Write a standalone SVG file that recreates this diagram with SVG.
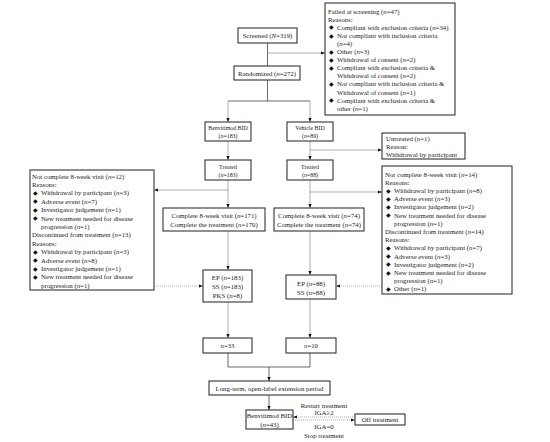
<svg xmlns="http://www.w3.org/2000/svg" width="550" height="442" viewBox="0 0 550 442">
<defs>
<marker id="ah" markerWidth="4" markerHeight="4" refX="4" refY="2" orient="auto" markerUnits="userSpaceOnUse"><path d="M0,0.4 L4,2 L0,3.6 z" fill="#111"/></marker>
</defs>
<style>
.box{fill:#fff;stroke:#333;stroke-width:1.1}
text{font-family:"Liberation Serif","Times New Roman",serif;font-size:6.8px;fill:#222}
.c{text-anchor:middle}
.s{font-size:5.9px}
.b{font-family:"DejaVu Sans",sans-serif;font-size:6px;fill:#111}
.ln{fill:none;stroke:#444;stroke-width:0.8}
.lg{fill:none;stroke:#999;stroke-width:0.8}
.dt{fill:none;stroke:#999;stroke-width:0.8;stroke-dasharray:1 1}
.i{font-style:italic}
</style>
<rect width="550" height="442" fill="#fff"/>
<g id="connectors">
<path class="ln" d="M267.5,43 V66"/>
<path class="lg" d="M267.5,53 H325" marker-end="url(#ah)"/>
<path class="ln" d="M267.5,80 V101 M228,101 H310"/>
<path class="lg" d="M228,101 V122" marker-end="url(#ah)"/>
<path class="lg" d="M310,101 V122" marker-end="url(#ah)"/>
<path class="lg" d="M228,141 V160" marker-end="url(#ah)"/>
<path class="lg" d="M310,141 V160" marker-end="url(#ah)"/>
<path class="lg" d="M310,150 H382" marker-end="url(#ah)"/>
<path class="lg" d="M228,180 V208" marker-end="url(#ah)"/>
<path class="lg" d="M228,190 H154" marker-end="url(#ah)"/>
<path class="lg" d="M310,180 V208" marker-end="url(#ah)"/>
<path class="lg" d="M310,192 H382" marker-end="url(#ah)"/>
<path class="lg" d="M228,231 V270" marker-end="url(#ah)"/>
<path class="lg" d="M310,231 V275" marker-end="url(#ah)"/>
<path class="dt" d="M154,286 H203" marker-end="url(#ah)"/>
<path class="dt" d="M382,286 H336" marker-end="url(#ah)"/>
<path class="lg" d="M228,302 V338" marker-end="url(#ah)"/>
<path class="lg" d="M310,299 V338" marker-end="url(#ah)"/>
<path class="ln" d="M228,353 V367 H310 V353"/>
<path class="ln" d="M269,367 V381" marker-end="url(#ah)"/>
<path class="ln" d="M269,395 V410" marker-end="url(#ah)"/>
<path class="dt" d="M355,417 H293" marker-end="url(#ah)"/>
<path class="dt" d="M293,420 H355" marker-end="url(#ah)"/>
</g>
<g id="screened">
<rect class="box" x="238" y="28" width="59" height="15"/>
<text class="c" x="267.5" y="38.3">Screened (<tspan class="i">N</tspan>=319)</text>
</g>
<g id="failed">
<rect class="box" x="325" y="3" width="130" height="112"/>
<text x="328" y="13.5">Failed at screening (<tspan class="i">n</tspan>=47)</text>
<text x="328" y="21.6">Reasons:</text>
<text class="b" x="329" y="29.4">◆</text><text x="337" y="29.7">Compliant with exclusion criteria (<tspan class="i">n</tspan>=34)</text>
<text class="b" x="329" y="37.5">◆</text><text x="337" y="37.8">Not compliant with inclusion criteria</text>
<text x="337" y="45.9">(<tspan class="i">n</tspan>=4)</text>
<text class="b" x="329" y="53.7">◆</text><text x="337" y="54">Other (<tspan class="i">n</tspan>=3)</text>
<text class="b" x="329" y="61.8">◆</text><text x="337" y="62.1">Withdrawal of consent (<tspan class="i">n</tspan>=2)</text>
<text class="b" x="329" y="69.9">◆</text><text x="337" y="70.2">Compliant with exclusion criteria &amp;</text>
<text x="337" y="78.3">Withdrawal of consent (<tspan class="i">n</tspan>=2)</text>
<text class="b" x="329" y="86.1">◆</text><text x="337" y="86.4">Not compliant with inclusion criteria &amp;</text>
<text x="337" y="94.5">Withdrawal of consent (<tspan class="i">n</tspan>=1)</text>
<text class="b" x="329" y="102.3">◆</text><text x="337" y="102.6">Compliant with exclusion criteria &amp;</text>
<text x="337" y="110.7">other (<tspan class="i">n</tspan>=1)</text>
</g>
<g id="randomized">
<rect class="box" x="234" y="66" width="66" height="14"/>
<text class="c" x="267" y="75.8">Randomized (<tspan class="i">n</tspan>=272)</text>
</g>
<g id="benvitimod">
<rect class="box" x="205" y="122" width="46" height="19"/>
<text class="c s" x="228" y="130">Benvitimod BID</text>
<text class="c s" x="228" y="138">(<tspan class="i">n</tspan>=183)</text>
</g>
<g id="vehicle">
<rect class="box" x="287" y="122" width="46" height="19"/>
<text class="c s" x="310" y="130">Vehicle BID</text>
<text class="c s" x="310" y="138">(<tspan class="i">n</tspan>=89)</text>
</g>
<g id="untreated">
<rect class="box" x="382" y="133" width="83" height="26"/>
<text x="386" y="141">Untreated (<tspan class="i">n</tspan>=1)</text>
<text x="386" y="149">Reason:</text>
<text x="386" y="157">Withdrawal by participant</text>
</g>
<g id="treated-left">
<rect class="box" x="205" y="160" width="46" height="20"/>
<text class="c s" x="228" y="168.5">Treated</text>
<text class="c s" x="228" y="176.5">(<tspan class="i">n</tspan>=183)</text>
</g>
<g id="treated-right">
<rect class="box" x="287" y="160" width="46" height="20"/>
<text class="c s" x="310" y="168.5">Treated</text>
<text class="c s" x="310" y="176.5">(<tspan class="i">n</tspan>=88)</text>
</g>
<g id="notcomplete-left">
<rect class="box" x="30" y="170" width="124" height="120"/>
<text x="32" y="178.5">Not complete 8-week visit (<tspan class="i">n</tspan>=12)</text>
<text x="32" y="186.9">Reasons:</text>
<text class="b" x="33" y="195">◆</text><text x="41" y="195.3">Withdrawal by participant (<tspan class="i">n</tspan>=3)</text>
<text class="b" x="33" y="203.4">◆</text><text x="41" y="203.7">Adverse event (<tspan class="i">n</tspan>=7)</text>
<text class="b" x="33" y="211.8">◆</text><text x="41" y="212.1">Investigator judgement (<tspan class="i">n</tspan>=1)</text>
<text class="b" x="33" y="220.2">◆</text><text x="41" y="220.5">New treatment needed for disease</text>
<text x="41" y="228.9">progression (<tspan class="i">n</tspan>=1)</text>
<text x="32" y="237.3">Discontinued from treatment (<tspan class="i">n</tspan>=13)</text>
<text x="32" y="245.7">Reasons:</text>
<text class="b" x="33" y="253.8">◆</text><text x="41" y="254.1">Withdrawal by participant (<tspan class="i">n</tspan>=3)</text>
<text class="b" x="33" y="262.2">◆</text><text x="41" y="262.5">Adverse event (<tspan class="i">n</tspan>=8)</text>
<text class="b" x="33" y="270.6">◆</text><text x="41" y="270.9">Investigator judgement (<tspan class="i">n</tspan>=1)</text>
<text class="b" x="33" y="279">◆</text><text x="41" y="279.3">New treatment needed for disease</text>
<text x="41" y="287.7">progression (<tspan class="i">n</tspan>=1)</text>
</g>
<g id="notcomplete-right">
<rect class="box" x="382" y="166" width="130" height="128"/>
<text x="385" y="176.5">Not complete 8-week visit (<tspan class="i">n</tspan>=14)</text>
<text x="385" y="184.7">Reasons:</text>
<text class="b" x="386" y="192.6">◆</text><text x="394" y="192.9">Withdrawal by participant (<tspan class="i">n</tspan>=8)</text>
<text class="b" x="386" y="200.8">◆</text><text x="394" y="201.1">Adverse event (<tspan class="i">n</tspan>=3)</text>
<text class="b" x="386" y="209">◆</text><text x="394" y="209.3">Investigator judgement (<tspan class="i">n</tspan>=2)</text>
<text class="b" x="386" y="217.2">◆</text><text x="394" y="217.5">New treatment needed for disease</text>
<text x="394" y="225.7">progression (<tspan class="i">n</tspan>=1)</text>
<text x="385" y="233.9">Discontinued from treatment (<tspan class="i">n</tspan>=14)</text>
<text x="385" y="242.1">Reasons:</text>
<text class="b" x="386" y="250">◆</text><text x="394" y="250.3">Withdrawal by participant (<tspan class="i">n</tspan>=7)</text>
<text class="b" x="386" y="258.2">◆</text><text x="394" y="258.5">Adverse event (<tspan class="i">n</tspan>=3)</text>
<text class="b" x="386" y="266.4">◆</text><text x="394" y="266.7">Investigator judgement (<tspan class="i">n</tspan>=2)</text>
<text class="b" x="386" y="274.6">◆</text><text x="394" y="274.9">New treatment needed for disease</text>
<text x="394" y="283.1">progression (<tspan class="i">n</tspan>=1)</text>
<text class="b" x="386" y="291">◆</text><text x="394" y="291.3">Other (<tspan class="i">n</tspan>=1)</text>
</g>
<g id="complete-left">
<rect class="box" x="163" y="208" width="102" height="23"/>
<text class="c" x="214" y="218">Complete 8-week visit (<tspan class="i">n</tspan>=171)</text>
<text class="c" x="214" y="226.5">Complete the treatment (<tspan class="i">n</tspan>=170)</text>
</g>
<g id="complete-right">
<rect class="box" x="274" y="208" width="90" height="23"/>
<text class="c" x="319" y="218">Complete 8-week visit (<tspan class="i">n</tspan>=74)</text>
<text class="c" x="319" y="226.5">Complete the treatment (<tspan class="i">n</tspan>=74)</text>
</g>
<g id="ep-left">
<rect class="box" x="203" y="270" width="49" height="32"/>
<text class="c" x="227.5" y="280">EP (<tspan class="i">n</tspan>=183)</text>
<text class="c" x="227.5" y="289">SS (<tspan class="i">n</tspan>=183)</text>
<text class="c" x="227.5" y="298">PKS (<tspan class="i">n</tspan>=8)</text>
</g>
<g id="ep-right">
<rect class="box" x="286" y="275" width="50" height="24"/>
<text class="c" x="311" y="285.5">EP (<tspan class="i">n</tspan>=88)</text>
<text class="c" x="311" y="294.5">SS (<tspan class="i">n</tspan>=88)</text>
</g>
<g id="n33">
<rect class="box" x="203" y="338" width="49" height="15"/>
<text class="c" x="227.5" y="348"><tspan class="i">n</tspan>=33</text>
</g>
<g id="n10">
<rect class="box" x="286" y="338" width="50" height="15"/>
<text class="c" x="311" y="348"><tspan class="i">n</tspan>=10</text>
</g>
<g id="longterm">
<rect class="box" x="209" y="381" width="121" height="14"/>
<text class="c" x="269.5" y="390.5">Long-term, open-label extension period</text>
</g>
<g id="benvitimod43">
<rect class="box" x="246" y="410" width="47" height="19"/>
<text class="c" x="269.5" y="418">Benvitimod BID</text>
<text class="c" x="269.5" y="426.5">(<tspan class="i">n</tspan>=43)</text>
</g>
<g id="offtreatment">
<rect class="box" x="355" y="414" width="50" height="11"/>
<text class="c" x="380" y="421.8">Off treatment</text>
</g>
<g id="labels">
<text class="c" x="324" y="407.5">Restart treatment</text>
<text class="c" x="324" y="414.5">IGA≥2</text>
<text class="c" x="324" y="429">IGA=0</text>
<text class="c" x="324" y="437.5">Stop treatment</text>
</g>
</svg>
